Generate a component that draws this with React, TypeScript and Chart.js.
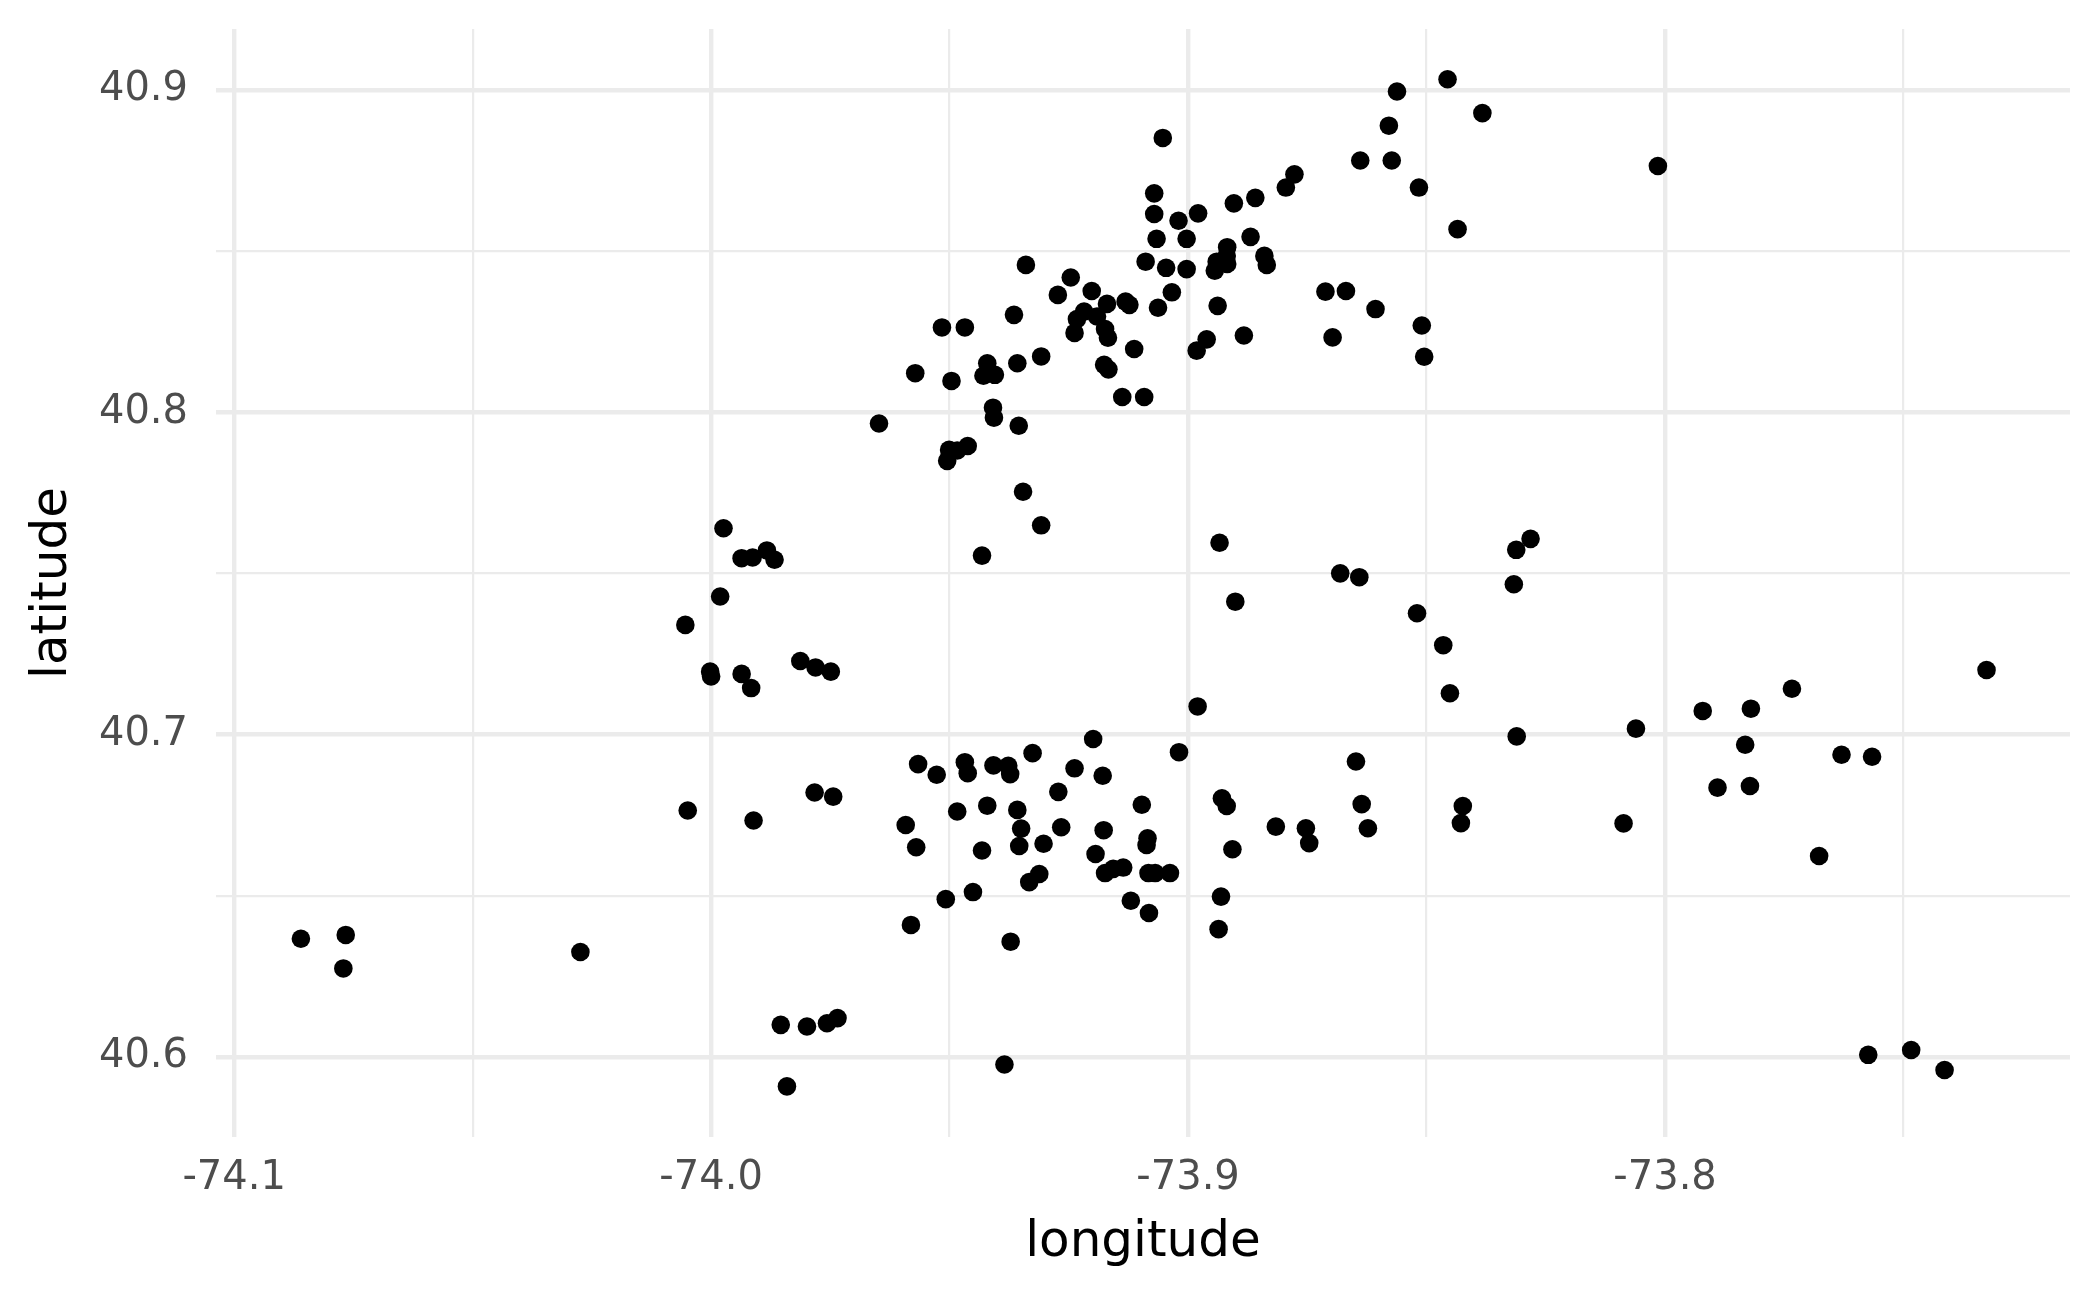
import React, { useEffect, useRef } from "react";
import { Chart, registerables } from "chart.js";

Chart.register(...registerables);

const LONGITUDE = [
  -73.9273, -73.9202, -73.917, -73.9131, -73.9123, -73.9063, -73.9218, -73.9233, -73.9191, -73.9174,
  -73.9168, -73.9238, -73.9113, -73.9176, -73.9167, -73.9138, -73.9092, -73.9365, -73.9516, -73.9468,
  -73.9572, -73.9496, -73.9421, -73.9429, -73.9405, -73.9358, -73.9308, -73.9409, -73.9407, -73.9355,
  -73.9648, -73.9501, -73.9505, -73.9484, -73.9462, -73.9346, -73.9308, -73.9432, -73.8777, -73.8795,
  -73.9071, -73.9071, -73.902, -73.8979, -73.8904, -73.8859, -73.9066, -73.9003, -73.8869, -73.9089,
  -73.9046, -73.9003, -73.8918, -73.8919, -73.894, -73.8944, -73.8918, -73.884, -73.8835, -73.8712,
  -73.8669, -73.8697, -73.9246, -73.9034, -73.8938, -73.8883, -73.8961, -73.8982, -73.8456, -73.8562,
  -73.8383, -73.8579, -73.8639, -73.8573, -73.8516, -73.8435, -73.8607, -73.851, -73.8505, -73.8015,
  -73.934, -73.9053, -73.9974, -73.9936, -73.9913, -73.9883, -73.9867, -73.9981, -74.0054, -74.0002,
  -74.0, -73.9936, -73.9916, -73.9813, -73.9781, -73.9749, -74.0049, -73.9911, -73.9783, -73.9744,
  -73.9854, -73.9799, -73.9757, -73.9735, -73.9841, -74.086, -74.0766, -74.0771, -74.0274, -73.9199,
  -73.9326, -73.9566, -73.9527, -73.9468, -73.9462, -73.9408, -73.9377, -73.9373, -73.9238, -73.9179,
  -73.9272, -73.9484, -73.9421, -73.9358, -73.935, -73.9592, -73.957, -73.9432, -73.9354, -73.9303,
  -73.9266, -73.9177, -73.9097, -73.9085, -73.9087, -73.9194, -73.9174, -73.9157, -73.9136, -73.9083,
  -73.9069, -73.9038, -73.9312, -73.9333, -73.912, -73.9082, -73.9451, -73.9508, -73.9581, -73.9372,
  -73.9385, -73.898, -73.9019, -73.8648, -73.8929, -73.8919, -73.8636, -73.8623, -73.8816, -73.8753,
  -73.8746, -73.8907, -73.8931, -73.8936, -73.8934, -73.8901, -73.8681, -73.8641, -73.852, -73.8465,
  -73.8451, -73.8282, -73.8312, -73.8317, -73.8311, -73.8061, -73.8424, -73.8428, -73.8087, -73.7326,
  -73.7734, -73.7921, -73.782, -73.7832, -73.763, -73.7566, -73.789, -73.7822, -73.7677, -73.7574,
  -73.7484, -73.7414,
];

const LATITUDE = [
  40.8364, 40.8376, 40.8336, 40.8343, 40.8333, 40.8324, 40.8312, 40.8289, 40.8297, 40.8258,
  40.8231, 40.8246, 40.8196, 40.8147, 40.8133, 40.8047, 40.8047, 40.8302, 40.8263, 40.8263,
  40.8121, 40.8097, 40.8152, 40.8113, 40.8116, 40.8152, 40.8173, 40.8014, 40.7983, 40.7958,
  40.7965, 40.7883, 40.7849, 40.7881, 40.7895, 40.7753, 40.7649, 40.7555, 40.8738, 40.8697,
  40.8679, 40.8615, 40.8594, 40.8617, 40.8648, 40.8665, 40.8538, 40.8538, 40.8544, 40.8467,
  40.8448, 40.8444, 40.8512, 40.8485, 40.8467, 40.8439, 40.846, 40.8485, 40.8457, 40.8374,
  40.8376, 40.8232, 40.8418, 40.8372, 40.833, 40.8238, 40.8226, 40.8191, 40.9033, 40.8995,
  40.8928, 40.8889, 40.8781, 40.8781, 40.8697, 40.8568, 40.832, 40.8269, 40.8172, 40.8764,
  40.8457, 40.8851, 40.764, 40.7547, 40.7549, 40.7571, 40.7542, 40.7428, 40.734, 40.7195,
  40.718, 40.7188, 40.7144, 40.7228, 40.7208, 40.7195, 40.6764, 40.6733, 40.682, 40.6807,
  40.6099, 40.6094, 40.6104, 40.612, 40.5908, 40.6366, 40.6378, 40.6274, 40.6325, 40.6986,
  40.6942, 40.6908, 40.6875, 40.6914, 40.688, 40.6904, 40.6903, 40.6877, 40.6895, 40.6872,
  40.6822, 40.6761, 40.6779, 40.6766, 40.6708, 40.6719, 40.665, 40.664, 40.6654, 40.6661,
  40.6712, 40.6703, 40.6782, 40.6678, 40.6657, 40.6629, 40.657, 40.6583, 40.6587, 40.657,
  40.657, 40.657, 40.6567, 40.6542, 40.6484, 40.6446, 40.6511, 40.6489, 40.6409, 40.6357,
  40.5976, 40.7087, 40.6945, 40.6916, 40.6802, 40.6778, 40.6784, 40.6709, 40.6714, 40.6709,
  40.6663, 40.6644, 40.6497, 40.6396, 40.7595, 40.7412, 40.75, 40.7488, 40.7376, 40.7277,
  40.7128, 40.7607, 40.7573, 40.7466, 40.6994, 40.7018, 40.6778, 40.6725, 40.6724, 40.72,
  40.7142, 40.7073, 40.708, 40.6968, 40.6937, 40.6931, 40.6835, 40.684, 40.6623, 40.6006,
  40.6021, 40.5959,
];

const X_MAJOR_TICKS = [-74.1, -74.0, -73.9, -73.8];
const X_MINOR_TICKS = [-74.05, -73.95, -73.85, -73.75];
const Y_MAJOR_TICKS = [40.6, 40.7, 40.8, 40.9];
const Y_MINOR_TICKS = [40.65, 40.75, 40.85];
const X_LIMITS = [-74.1038, -73.7151];
const Y_LIMITS = [40.5751, 40.9189];

const isIn = (arr: number[], v: number) => arr.some((a) => Math.abs(a - v) < 1e-6);

export default function App() {
  const ref = useRef<HTMLCanvasElement | null>(null);

  useEffect(() => {
    if (!ref.current) return;
    const gridWidth = (major: number[]) => (ctx: any) =>
      ctx && ctx.tick && isIn(major, ctx.tick.value) ? 4.4 : 2.2;

    const chart = new Chart(ref.current, {
      type: "scatter",
      data: {
        datasets: [
          {
            data: LONGITUDE.map((x, i) => ({ x, y: LATITUDE[i] })),
            backgroundColor: "#000000",
            borderWidth: 0,
            pointRadius: 9.3,
            pointHoverRadius: 9.3,
          },
        ],
      },
      options: {
        animation: false,
        responsive: false,
        devicePixelRatio: 1,
        layout: { padding: { top: 29, right: 30, left: 0, bottom: 0 } },
        plugins: { legend: { display: false }, tooltip: { enabled: false } },
        scales: {
          x: {
            type: "linear",
            min: X_LIMITS[0],
            max: X_LIMITS[1],
            afterBuildTicks: (s: any) => {
              s.ticks = [...X_MAJOR_TICKS, ...X_MINOR_TICKS]
                .sort((a, b) => a - b)
                .map((v) => ({ value: v }));
            },
            afterFit: (s: any) => {
              s.height = 160;
              s.paddingLeft = 0;
              s.paddingRight = 0;
            },
            grid: { color: "#EBEBEB", lineWidth: gridWidth(X_MAJOR_TICKS), drawTicks: false },
            border: { display: false },
            ticks: {
              padding: 18,
              color: "#4D4D4D",
              font: { family: "DejaVu Sans", size: 40 },
              maxRotation: 0,
              autoSkip: false,
              callback: (v: any) => (isIn(X_MAJOR_TICKS, Number(v)) ? Number(v).toFixed(1) : ""),
            },
            title: {
              display: true,
              text: "longitude",
              color: "#000000",
              font: { family: "DejaVu Sans", size: 50 },
              padding: { top: 0, bottom: 24 },
            },
          },
          y: {
            type: "linear",
            min: Y_LIMITS[0],
            max: Y_LIMITS[1],
            afterBuildTicks: (s: any) => {
              s.ticks = [...Y_MAJOR_TICKS, ...Y_MINOR_TICKS]
                .sort((a, b) => a - b)
                .map((v) => ({ value: v }));
            },
            afterFit: (s: any) => {
              s.width = 216;
              s.paddingTop = 0;
              s.paddingBottom = 0;
            },
            grid: { color: "#EBEBEB", lineWidth: gridWidth(Y_MAJOR_TICKS), drawTicks: false },
            border: { display: false },
            ticks: {
              padding: 28,
              color: "#4D4D4D",
              font: { family: "DejaVu Sans", size: 40 },
              autoSkip: false,
              callback: (v: any) => (isIn(Y_MAJOR_TICKS, Number(v)) ? Number(v).toFixed(1) : ""),
            },
            title: {
              display: true,
              text: "latitude",
              color: "#000000",
              font: { family: "DejaVu Sans", size: 50 },
              padding: { top: 23, bottom: 0 },
            },
          },
        },
      },
    } as any);

    return () => chart.destroy();
  }, []);

  return (
    <div style={{ position: "fixed", left: 0, top: 0, width: 2100, height: 1297, background: "#ffffff" }}>
      <canvas ref={ref} width={2100} height={1297} style={{ display: "block", width: 2100, height: 1297 }} />
    </div>
  );
}
